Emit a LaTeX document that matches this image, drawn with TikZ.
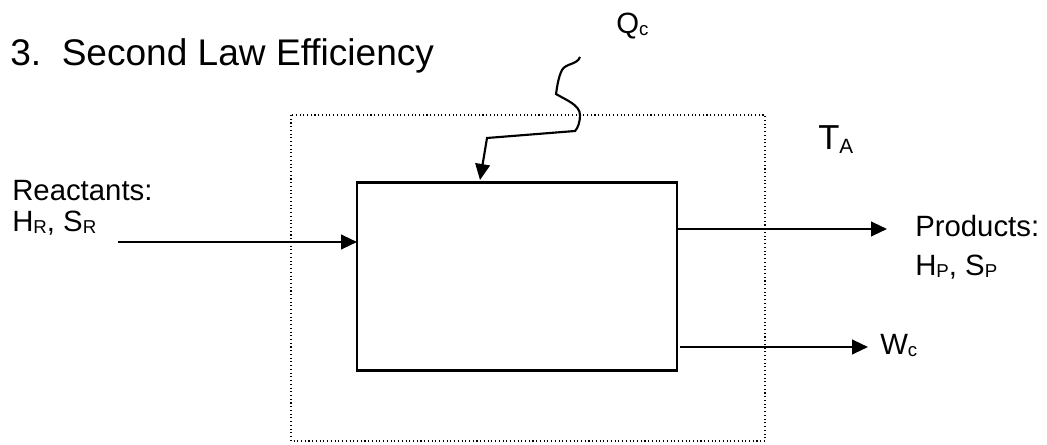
\documentclass[tikz,border=0pt]{standalone}
\usepackage{fontspec}
\setmainfont{Liberation Sans}
\usetikzlibrary{arrows.meta}
\newcommand{\sbs}[1]{\raisebox{-1.5pt}{\fontsize{14}{15}\selectfont #1}}
\newcommand{\bigsbs}[1]{\raisebox{-3pt}{\fontsize{15.5}{16}\selectfont #1}}
\tikzset{
  lbl/.style={anchor=base west, inner sep=0pt, font=\fontsize{22}{24}\selectfont},
  arr/.style={line width=1.6pt, -{Triangle[length=12pt,width=11pt]}},
  inbox/.style={draw, line width=1.6pt, inner sep=0pt, outer sep=0pt, minimum width=240pt, minimum height=141pt},
  outbox/.style={draw, dotted, line width=0.8pt}
}
\begin{document}
\begin{tikzpicture}[x=0.75pt,y=-0.75pt]
\useasboundingbox (0,0) rectangle (1047,445);
% title
\node[anchor=base west, inner sep=0pt, font=\fontsize{27.8}{32}\selectfont] (title) at (10,66) {3.\ \ Second Law Efficiency};
% control surface
\draw[outbox] (291,115) rectangle (765,441);
% inner box
\node[inbox] (box) at (517,276.5) {};
% labels
\node[lbl] (rlab) at (12,201) {Reactants:};
\node[lbl] (rvar) at (12,232) {H\sbs{R}, S\sbs{R}};
\node[lbl] (plab) at (915,237) {Products:};
\node[lbl] (pvar) at (915,276) {H\sbs{P}, S\sbs{P}};
\node[anchor=base west, inner sep=0pt, font=\fontsize{26}{30}\selectfont] (ta) at (818,150) {T\bigsbs{A}};
\node[lbl] (qc) at (616,34) {Q\sbs{c}};
\node[lbl] (wc) at (880,355) {W\sbs{c}};
% arrows
\coordinate (rs) at (118,242);
\draw[arr] (rs) -- (box.west |- rs);
\coordinate (pe) at (887,229);
\draw[arr] (box.east |- pe) -- (pe);
\coordinate (we) at (868,347);
\draw[arr] ([xshift=2pt]box.east |- we) -- (we);
% heat wavy arrow
\coordinate (qs) at (580,57);
\coordinate (qt) at (480,180);
\draw[arr] (qs) .. controls (577,65) and (566,63) .. (562,70)
  .. controls (558,78) and (557,88) .. (556,94)
  .. controls (566,100) and (580,105) .. (580,115)
  .. controls (580,122) and (578,128) .. (575,131)
  -- (487,138) -- (qt);
\end{tikzpicture}
\end{document}
